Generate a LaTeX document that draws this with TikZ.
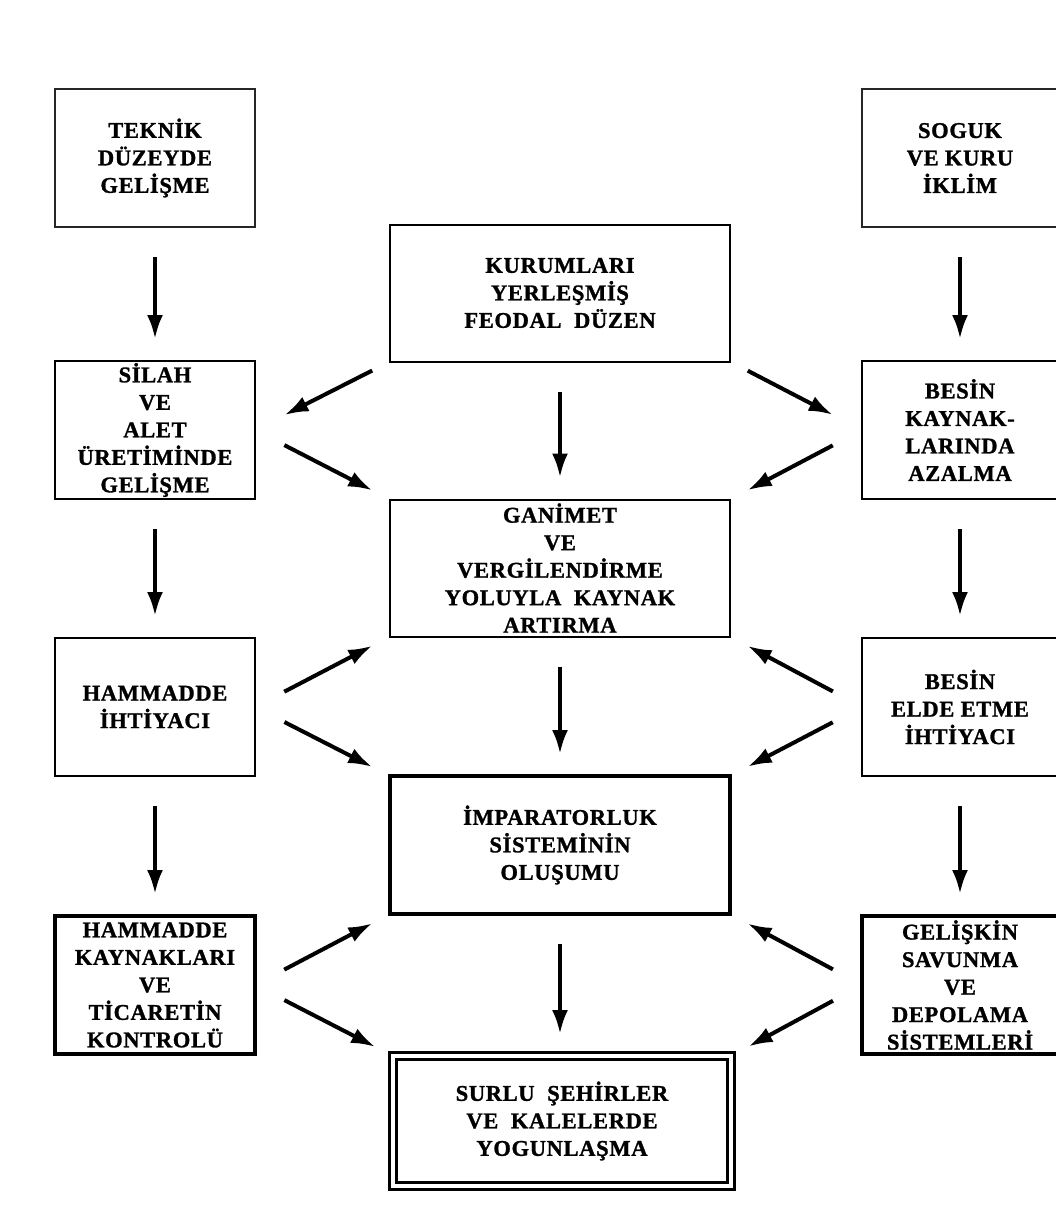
\documentclass[tikz,border=0pt]{standalone}
\usepackage{fontspec}
\newfontfamily\boxfont{Liberation Serif}[LetterSpace=3, BoldFeatures={FakeBold=1.2}]
\usetikzlibrary{arrows.meta}

\tikzset{
  box/.style={draw, line width=2pt, align=center, inner sep=0pt, outer sep=0pt,
    font=\boxfont\bfseries\fontsize{22.5}{27.5}\selectfont},
  sidebox/.style={box, minimum width=200pt, minimum height=138pt},
  rightbox/.style={box, minimum width=196pt, minimum height=138pt},
  midbox/.style={box, minimum width=340pt, minimum height=137pt},
  thinbox/.style={line width=1.4pt, draw=black!85},
  thickbox/.style={line width=3.5pt},
  flow/.style={-{Latex[length=24pt,width=16pt]}, line width=4pt,
    shorten <=30pt, shorten >=22pt},
  fromside/.style={flow, shorten <=33pt, shorten >=20pt},
  toside/.style={flow, shorten <=20pt, shorten >=33pt}
}

\begin{document}
\begin{tikzpicture}[x=1pt, y=-1pt]
  \clip (0,0) rectangle (1056,1208);
  \fill[white] (0,0) rectangle (1056,1208);

  % left column
  \node[sidebox, thinbox] (teknik) at (155,158) {TEKNİK\\DÜZEYDE\\GELİŞME};
  \node[sidebox] (silah) at (155,430) {SİLAH\\VE\\ALET\\ÜRETİMİNDE\\GELİŞME};
  \node[sidebox] (hammadde) at (155,707) {HAMMADDE\\İHTİYACI};
  \node[sidebox, thickbox] (kontrol) at (155,985) {HAMMADDE\\KAYNAKLARI\\VE\\TİCARETİN\\KONTROLÜ};

  % center column
  \node[midbox] (kurum) at (560,293) {KURUMLARI\\YERLEŞMİŞ\\FEODAL~ DÜZEN};
  \node[midbox] (ganimet) at (560,568) {GANİMET\\VE\\VERGİLENDİRME\\YOLUYLA~ KAYNAK\\ARTIRMA};
  \node[midbox, thickbox, minimum height=138pt] (imparator) at (560,845) {İMPARATORLUK\\SİSTEMİNİN\\OLUŞUMU};
  \node[midbox, minimum width=338pt, minimum height=130pt, line width=2.6pt,
    double=white, double distance=4.5pt] (surlu) at (562,1121) {SURLU~ ŞEHİRLER\\VE~ KALELERDE\\YOGUNLAŞMA};

  % right column
  \node[rightbox, thinbox] (iklim) at (960,158) {SOGUK\\VE KURU\\İKLİM};
  \node[rightbox] (besinazal) at (960,430) {BESİN\\KAYNAK-\\LARINDA\\AZALMA};
  \node[rightbox] (besinihti) at (960,707) {BESİN\\ELDE ETME\\İHTİYACI};
  \node[rightbox, thickbox] (savunma) at (960,985) {GELİŞKİN\\SAVUNMA\\VE\\DEPOLAMA\\SİSTEMLERİ};

  % vertical arrows
  \draw[flow] (teknik.south) -- (silah.north);
  \draw[flow] (silah.south) -- (hammadde.north);
  \draw[flow] (hammadde.south) -- (kontrol.north);
  \draw[flow] (kurum.south) -- (ganimet.north);
  \draw[flow] (ganimet.south) -- (imparator.north);
  \draw[flow] (imparator.south) -- (imparator.south |- surlu.north);
  \draw[flow] (iklim.south) -- (besinazal.north);
  \draw[flow] (besinazal.south) -- (besinihti.north);
  \draw[flow] (besinihti.south) -- (savunma.north);

  % diagonal arrows
  \draw[toside] (kurum.south west) -- (silah.east);
  \draw[toside] (kurum.south east) -- (besinazal.west);
  \draw[fromside] (silah.east) -- (ganimet.north west);
  \draw[fromside] (besinazal.west) -- (ganimet.north east);
  \draw[fromside] (hammadde.east) -- (ganimet.south west);
  \draw[fromside] (hammadde.east) -- (imparator.north west);
  \draw[fromside] (besinihti.west) -- (ganimet.south east);
  \draw[fromside] (besinihti.west) -- (imparator.north east);
  \draw[fromside] (kontrol.east) -- (imparator.south west);
  \draw[fromside] (kontrol.east) -- (surlu.north west);
  \draw[fromside] (savunma.west) -- (imparator.south east);
  \draw[fromside] (savunma.west) -- (surlu.north east);
\end{tikzpicture}
\end{document}
